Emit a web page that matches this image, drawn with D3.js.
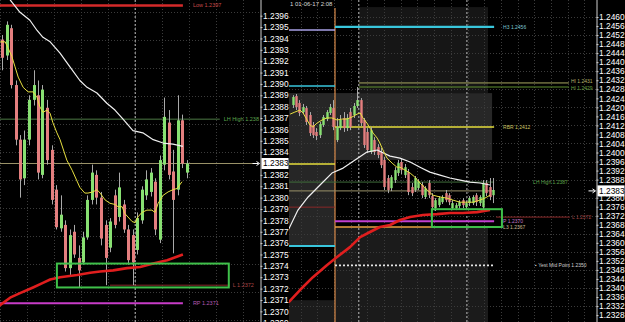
<!DOCTYPE html>
<html>
<head>
<meta charset="utf-8">
<script src="https://cdn.jsdelivr.net/npm/d3@7"></script>
<style>
  body { margin: 0; background: #000; }
  svg { display: block; }
  text { font-family: "Liberation Sans", Arial, sans-serif; }
</style>
</head>
<body>
<div id="chart"></div>
<script>
// ---- left chart (M5) candles, bar index = position
const leftOpen  = [1.23939,1.23925,1.23949,1.23899,1.23851,1.23817,1.23851,1.23886,1.23890,1.23820,1.23879,1.23842,1.23807,1.23773,1.23776,1.23738,1.23770,1.23747,1.23743,1.23765,1.23798,1.23820,1.23800,1.23776,1.23756,1.23802,1.23783,1.23794,1.23772,1.23767,1.23754,1.23780,1.23802,1.23805,1.23814,1.23763,1.23829,1.23866,1.23823,1.23807,1.23868,1.23822];
const leftClose = [1.23923,1.23952,1.23899,1.23851,1.23816,1.23851,1.23886,1.23899,1.23822,1.23895,1.23833,1.23798,1.23774,1.23785,1.23738,1.23767,1.23750,1.23736,1.23765,1.23798,1.23822,1.23800,1.23764,1.23747,1.23779,1.23776,1.23809,1.23772,1.23745,1.23743,1.23782,1.23807,1.23816,1.23822,1.23772,1.23833,1.23871,1.23820,1.23798,1.23868,1.23830,1.23830];
const leftHigh  = [1.23943,1.23955,1.23952,1.23903,1.23855,1.23859,1.23890,1.23912,1.23903,1.23899,1.23886,1.23846,1.23811,1.23802,1.23780,1.23772,1.23776,1.23758,1.23770,1.23802,1.23829,1.23824,1.23805,1.23780,1.23782,1.23807,1.23822,1.23798,1.23776,1.23772,1.23787,1.23810,1.23824,1.23826,1.23817,1.23837,1.23888,1.23877,1.23842,1.23890,1.23873,1.23833];
const leftLow   = [1.23912,1.23921,1.23896,1.23846,1.23800,1.23811,1.23846,1.23881,1.23816,1.23817,1.23829,1.23794,1.23772,1.23770,1.23735,1.23732,1.23747,1.23721,1.23741,1.23763,1.23794,1.23794,1.23758,1.23723,1.23752,1.23773,1.23779,1.23769,1.23741,1.23723,1.23750,1.23777,1.23798,1.23801,1.23767,1.23760,1.23824,1.23816,1.23751,1.23802,1.23826,1.23817];

// moving averages [bar, price]
const leftYellowMA = [[-0.4,1.23937],[0.7,1.23937],[1.3,1.23932],[2.2,1.23924],[2.9,1.23915],[3.6,1.23906],[4.7,1.23897],[5.8,1.23893],[6.9,1.23893],[7.8,1.23888],[8.4,1.23880],[9.1,1.23875],[10.0,1.23877],[10.7,1.23874],[11.3,1.23866],[12.2,1.23857],[12.9,1.23851],[14.4,1.23833],[15.6,1.23824],[17.3,1.23809],[18.4,1.23804],[19.1,1.23804],[20.2,1.23805],[21.1,1.23807],[21.8,1.23804],[22.9,1.23798],[24.0,1.23795],[25.1,1.23794],[25.8,1.23792],[26.7,1.23792],[27.3,1.23786],[28.9,1.23779],[29.6,1.23778],[30.2,1.23783],[31.1,1.23787],[32.2,1.23789],[33.3,1.23789],[34.0,1.23787],[34.7,1.23795],[35.8,1.23802],[36.9,1.23805],[38.0,1.23807],[38.9,1.23808],[40.0,1.23814]];
const leftWhiteMA = [[1.8,1.23974],[2.2,1.23972],[4.0,1.23963],[6.2,1.23956],[7.8,1.23947],[9.1,1.23941],[10.7,1.23937],[12.9,1.23927],[15.1,1.23915],[17.3,1.23903],[18.9,1.23897],[21.1,1.23892],[23.3,1.23883],[25.1,1.23877],[26.9,1.23869],[29.1,1.23859],[31.3,1.23857],[33.6,1.23851],[35.8,1.23848],[38.0,1.23847],[40.2,1.23845]];
const leftRedMA = [[-0.6,1.23705],[1.8,1.23712],[4.0,1.23716],[6.9,1.23721],[9.1,1.23725],[10.7,1.23728],[12.9,1.23730],[16.7,1.23732],[19.6,1.23734],[21.8,1.23735],[24.7,1.23736],[27.8,1.23738],[30.7,1.23739],[33.6,1.23742],[36.7,1.23745],[40.2,1.23750]];

// left chart levels
const leftLevelLabels = ["Low 1.2397", "LH High 1.238", "", "L 1.2372", "RP 1.2371"];
const leftLevelPrices = [1.23969, 1.23869, 1.2383, 1.23723, 1.23707];
const leftLevelFrom   = [-0.5, -0.5, -0.5, 24, -0.5];
const leftLevelTo     = [40.2, 48.4, 56.9, 50.6, 40.2];
const leftBox = { from: 12.2, to: 50.4, top: 1.23742, bottom: 1.23721 };
const leftSession = [29.6];
const leftTicks = d3.range(28).map(k => +(1.2369 + k * 0.0001).toFixed(4));

// ---- right chart (M15) candles
const midOpen  = [1.24210,1.24250,1.24219,1.24179,1.24197,1.24166,1.24122,1.24091,1.24077,1.24122,1.24148,1.24175,1.24197,1.24055,1.24108,1.24153,1.24108,1.24179,1.24166,1.24206,1.24232,1.24144,1.24091,1.24002,1.24055,1.24024,1.24002,1.23967,1.23887,1.23842,1.23878,1.23909,1.23958,1.23900,1.23913,1.23847,1.23834,1.23842,1.23856,1.23803,1.23865,1.23807,1.23754,1.23767,1.23780,1.23820,1.23811,1.23754,1.23754,1.23763,1.23789,1.23758,1.23776,1.23776,1.23811,1.23776,1.23758,1.23865,1.23847,1.23811];
const midClose = [1.24246,1.24201,1.24175,1.24201,1.24135,1.24086,1.24077,1.24073,1.24126,1.24157,1.24179,1.24201,1.24113,1.24113,1.24144,1.24108,1.24153,1.24113,1.24206,1.24232,1.24130,1.24033,1.24011,1.24099,1.24002,1.23989,1.23944,1.23847,1.23834,1.23891,1.23922,1.23953,1.23922,1.23935,1.23825,1.23820,1.23887,1.23873,1.23811,1.23842,1.23811,1.23758,1.23789,1.23798,1.23803,1.23789,1.23780,1.23776,1.23767,1.23780,1.23767,1.23776,1.23798,1.23803,1.23780,1.23803,1.23865,1.23820,1.23803,1.23834];
const midHigh  = [1.24254,1.24259,1.24232,1.24215,1.24206,1.24179,1.24135,1.24108,1.24135,1.24166,1.24188,1.24215,1.24232,1.24153,1.24166,1.24179,1.24170,1.24197,1.24219,1.24290,1.24241,1.24153,1.24108,1.24113,1.24068,1.24037,1.24020,1.23980,1.23900,1.23900,1.23935,1.23967,1.23975,1.23949,1.23927,1.23865,1.23896,1.23882,1.23869,1.23851,1.23878,1.23820,1.23798,1.23807,1.23811,1.23834,1.23820,1.23789,1.23776,1.23789,1.23798,1.23785,1.23807,1.23811,1.23820,1.23811,1.23878,1.23878,1.23887,1.23887];
const midLow   = [1.24197,1.24188,1.24161,1.24170,1.24122,1.24073,1.24064,1.24055,1.24064,1.24113,1.24139,1.24166,1.24099,1.24046,1.24099,1.24091,1.24095,1.24099,1.24153,1.24197,1.24117,1.24020,1.23998,1.23993,1.23989,1.23975,1.23931,1.23834,1.23820,1.23829,1.23865,1.23896,1.23904,1.23887,1.23811,1.23807,1.23825,1.23834,1.23798,1.23794,1.23798,1.23745,1.23741,1.23758,1.23772,1.23780,1.23767,1.23745,1.23745,1.23749,1.23754,1.23745,1.23763,1.23767,1.23763,1.23763,1.23749,1.23807,1.23789,1.23776];

const midYellowMA = [[-0.7,1.24170],[0.7,1.24179],[2.2,1.24188],[3.1,1.24175],[4.3,1.24144],[5.1,1.24122],[6.0,1.24113],[7.2,1.24130],[8.7,1.24144],[10.1,1.24153],[11.6,1.24153],[13.1,1.24144],[14.6,1.24148],[16.0,1.24148],[17.5,1.24157],[19.0,1.24170],[19.9,1.24175],[20.7,1.24153],[21.9,1.24130],[22.8,1.24108],[23.7,1.24086],[24.9,1.24064],[25.7,1.24042],[26.6,1.24011],[27.8,1.23975],[29.3,1.23953],[30.7,1.23935],[31.6,1.23935],[34.6,1.23909],[36.0,1.23891],[37.5,1.23865],[39.6,1.23834],[41.3,1.23811],[43.4,1.23803],[45.4,1.23798],[47.2,1.23789],[49.3,1.23780],[51.3,1.23780],[53.1,1.23780],[55.1,1.23789],[56.6,1.23798],[58.1,1.23811]];
const midWhiteMA = [[-1.1,1.23661],[1.6,1.23745],[4.6,1.23803],[8.1,1.23856],[11.6,1.23909],[14.9,1.23931],[18.4,1.23967],[21.9,1.24002],[24.9,1.24011],[28.7,1.23984],[31.6,1.23975],[34.6,1.23958],[37.5,1.23935],[40.4,1.23913],[43.4,1.23900],[46.3,1.23887],[49.3,1.23878],[52.2,1.23869],[55.1,1.23865],[58.1,1.23856]];
const midRedMA = [[-1.1,1.23337],[2.2,1.23391],[6.0,1.23448],[10.1,1.23501],[13.1,1.23537],[16.9,1.23581],[19.9,1.23625],[22.8,1.23648],[25.7,1.23670],[28.7,1.23679],[31.6,1.23701],[34.6,1.23714],[38.4,1.23723],[42.5,1.23727],[46.3,1.23732],[50.1,1.23732],[54.3,1.23736],[58.1,1.23745]];

// right chart levels
const midLevelLabels = ["", "", "", "", "", "H3 1.2456", "RBR 1.2412", "HI 1.2431", "HI 1.2429", "LH High 1.2387", "", "P 1.2370", "L3 1.2367", "L 1.2372", "\u25aa Yest Mid Point 1.2350"];
const midLevelPrices = [1.24542, 1.24294, 1.23949, 1.23758, 1.23586, 1.24556, 1.24113, 1.24308, 1.24290, 1.23869, 1.2383, 1.23696, 1.2367, 1.23714, 1.2350];
const midLevelFrom   = [-1.1, -1.1, -1.1, -1.1, -1.1, 12.5, 12.5, 19.5, 19.5, -1.1, -1.1, 12.5, 12.5, 59.9, 12.5];
const midLevelTo     = [12.5, 12.5, 12.5, 12.5, 12.5, 59.3, 59.3, 81.3, 81.3, 59.3, 59.3, 59.3, 59.3, 81.6, 59.3];

// shaded session ranges
const midZoneFrom   = [-1.1, 12.5, 19.5, 12.5, -1.1];
const midZoneTo     = [12.5, 58.7, 57.5, 57.5, 12.5];
const midZoneTop    = [1.24263, 1.24263, 1.24644, 1.23670, 1.23346];
const midZoneBottom = [1.23586, 1.23967, 1.24263, 1.23249, 1.23249];
const midBox = { from: 41, to: 61.6, top: 1.23749, bottom: 1.23670 };
const midDayStart = 12.5;
const midSession = [19.5, 51.3];
const midTicks = d3.range(34).map(k => +(1.2328 + k * 0.0004).toFixed(4));
const lastPrice = 1.2383;
const stamp = "1  01-06-17 2:08";

// ---- drawing
const W = 625, H = 322;
const fmt = d3.format(".4f");
const up = "#88e072", down = "#e47f7f", wick = "#a9a9a9";

const svg = d3.select("#chart").append("svg")
  .attr("width", W).attr("height", H)
  .style("background", "#000");

const defs = svg.append("defs");
defs.append("clipPath").attr("id", "clipL").append("rect")
  .attr("x", 0).attr("y", 0).attr("width", 261).attr("height", H);
defs.append("clipPath").attr("id", "clipM").append("rect")
  .attr("x", 289).attr("y", 0).attr("width", 308).attr("height", H);

const xL = d3.scaleLinear().domain([0, 57]).range([2, 258.5]);
const yL = d3.scaleLinear().domain([1.2369, 1.2396]).range([322.7, 15.7]);
const xM = d3.scaleLinear().domain([0, 90]).range([292.5, 598.5]);
const yM = d3.scaleLinear().domain([1.2328, 1.2460]).range([315.1, 17]);

const gL = svg.append("g").attr("clip-path", "url(#clipL)");
const gM = svg.append("g").attr("clip-path", "url(#clipM)");

// shaded zones
gM.selectAll("rect.zone")
  .data(d3.range(midZoneFrom.length))
  .join("rect")
  .attr("class", "zone")
  .attr("x", i => xM(midZoneFrom[i]))
  .attr("width", i => xM(midZoneTo[i]) - xM(midZoneFrom[i]))
  .attr("y", i => yM(midZoneTop[i]))
  .attr("height", i => yM(midZoneBottom[i]) - yM(midZoneTop[i]))
  .attr("fill", (d, i) => ["#262626", "#272727", "#161616", "#1b1b1b", "#1b1b1b"][i]);

// grid
const gridStyle = (sel) => sel.attr("stroke", "#3b3b3b").attr("stroke-width", 1).attr("stroke-dasharray", "1,2");
gL.selectAll("line.vg").data(d3.range(0.5, 261, 27)).join("line")
  .attr("x1", d => d).attr("x2", d => d).attr("y1", 0).attr("y2", H).call(gridStyle);
gL.selectAll("line.hg").data(d3.range(12.5, H, 28)).join("line")
  .attr("x1", 0).attr("x2", 261).attr("y1", d => d).attr("y2", d => d).call(gridStyle);
gM.selectAll("line.vg").data(d3.range(300.5, 597, 16.7)).join("line")
  .attr("x1", d => Math.round(d) + 0.5).attr("x2", d => Math.round(d) + 0.5).attr("y1", 0).attr("y2", H).call(gridStyle);
gM.selectAll("line.hg").data(midTicks.filter((d, i) => i % 2 === 1)).join("line")
  .attr("x1", 289).attr("x2", 597).attr("y1", d => Math.round(yM(d)) + 0.5).attr("y2", d => Math.round(yM(d)) + 0.5).call(gridStyle);

// session separators
gL.selectAll("line.sess").data(leftSession).join("line")
  .attr("x1", d => xL(d)).attr("x2", d => xL(d)).attr("y1", 0).attr("y2", H)
  .attr("stroke", "#bdbdbd").attr("stroke-dasharray", "2,2");
gM.selectAll("line.sess").data(midSession).join("line")
  .attr("x1", d => xM(d)).attr("x2", d => xM(d)).attr("y1", 0).attr("y2", H)
  .attr("stroke", "#bdbdbd").attr("stroke-dasharray", "2,2");
gM.append("line")
  .attr("x1", xM(midDayStart)).attr("x2", xM(midDayStart)).attr("y1", 8).attr("y2", H)
  .attr("stroke", "#d98a4a").attr("stroke-width", 1.2);

// level lines
const leftLineColor = ["#d42a2a", "#4d7a45", "#9a9268", "#8a2a2a", "#c83cc8"];
const leftLineWidth = [2.5, 1, 1, 1, 2];
gL.selectAll("line.lvl").data(d3.range(leftLevelPrices.length)).join("line")
  .attr("x1", i => xL(leftLevelFrom[i])).attr("x2", i => xL(leftLevelTo[i]))
  .attr("y1", i => yL(leftLevelPrices[i])).attr("y2", i => yL(leftLevelPrices[i]))
  .attr("stroke", i => leftLineColor[i]).attr("stroke-width", i => leftLineWidth[i]);

const midLineColor = ["#a9a0e6", "#39c6dc", "#e6de3c", "#8a2828", "#39c6dc", "#39c6dc", "#e6de3c", "#a8a860", "#5f8f2f", "#3f6b3a", "#9a9268", "#c23fd0", "#e8a040", "#8a2828", "#e6e6e6"];
const midLineWidth = [1.5, 1.5, 1.5, 1, 2, 2.2, 1.5, 1, 1, 1, 1, 2, 1.5, 1, 1.6];
gM.selectAll("line.lvl").data(d3.range(midLevelPrices.length)).join("line")
  .attr("x1", i => xM(midLevelFrom[i])).attr("x2", i => xM(midLevelTo[i]))
  .attr("y1", i => yM(midLevelPrices[i])).attr("y2", i => yM(midLevelPrices[i]))
  .attr("stroke", i => midLineColor[i]).attr("stroke-width", i => midLineWidth[i])
  .attr("stroke-dasharray", i => i === 14 ? "2,2" : null);

// boxes
const boxStyle = (sel) => sel.attr("fill", "none").attr("stroke", "#3fc04a").attr("stroke-width", 2);
svg.append("rect")
  .attr("x", xL(leftBox.from)).attr("width", xL(leftBox.to) - xL(leftBox.from))
  .attr("y", yL(leftBox.top)).attr("height", yL(leftBox.bottom) - yL(leftBox.top))
  .call(boxStyle);
svg.append("rect")
  .attr("x", xM(midBox.from)).attr("width", xM(midBox.to) - xM(midBox.from))
  .attr("y", yM(midBox.top)).attr("height", yM(midBox.bottom) - yM(midBox.top))
  .call(boxStyle);

// candles
function drawCandles(g, open, close, high, low, x, y, bodyW) {
  const bars = open.map((o, i) => ({ i, o, c: close[i], h: high[i], l: low[i] }));
  g.append("g").selectAll("line").data(bars).join("line")
    .attr("x1", d => Math.round(x(d.i)) + 0.5).attr("x2", d => Math.round(x(d.i)) + 0.5)
    .attr("y1", d => y(d.h)).attr("y2", d => y(d.l))
    .attr("stroke", wick).attr("stroke-width", 1);
  g.append("g").selectAll("rect").data(bars).join("rect")
    .attr("x", d => Math.round(x(d.i)) + 0.5 - bodyW / 2)
    .attr("width", bodyW)
    .attr("y", d => y(Math.max(d.o, d.c)))
    .attr("height", d => Math.max(1, Math.abs(y(d.o) - y(d.c))))
    .attr("fill", d => d.c >= d.o ? up : down);
}
drawCandles(gL, leftOpen, leftClose, leftHigh, leftLow, xL, yL, 3);
drawCandles(gM, midOpen, midClose, midHigh, midLow, xM, yM, 2.4);

// moving averages
function drawMA(g, pts, x, y, color, w) {
  g.append("path").datum(pts)
    .attr("d", d3.line().x(d => x(d[0])).y(d => y(d[1])))
    .attr("fill", "none").attr("stroke", color).attr("stroke-width", w)
    .attr("stroke-linejoin", "round");
}
drawMA(gL, leftRedMA, xL, yL, "#e01e1e", 2.6);
drawMA(gL, leftWhiteMA, xL, yL, "#f0f0f0", 1.2);
drawMA(gL, leftYellowMA, xL, yL, "#e8e040", 1);
drawMA(gM, midRedMA, xM, yM, "#e01e1e", 2.6);
drawMA(gM, midWhiteMA, xM, yM, "#f0f0f0", 1.2);
drawMA(gM, midYellowMA, xM, yM, "#e8e040", 1);

// level labels
const leftLabelColor = ["#c84a4a", "#5ea54e", "#000", "#a84646", "#b45ab4"];
const leftLabelDx = [10, 4, 0, 3, 10];
svg.append("g").selectAll("text").data(d3.range(leftLevelLabels.length).filter(i => leftLevelLabels[i])).join("text")
  .attr("x", i => xL(leftLevelTo[i]) + leftLabelDx[i])
  .attr("y", i => yL(leftLevelPrices[i]))
  .attr("dy", "0.35em")
  .attr("fill", i => leftLabelColor[i])
  .style("font-size", "5.5px")
  .text(i => leftLevelLabels[i]);

const midLabelColor = ["", "", "", "", "", "#7cc6d2", "#c8c060", "#b4b46a", "#6aa040", "#5aa048", "", "#c070c8", "#c8b890", "#a44444", "#cfcfcf"];
const midLabelDx = [0, 0, 0, 0, 0, 9, 9, 2, 2, 39, 0, 9, 9, 2, 41];
svg.append("g").selectAll("text").data(d3.range(midLevelLabels.length).filter(i => midLevelLabels[i])).join("text")
  .attr("x", i => xM(midLevelTo[i]) + midLabelDx[i])
  .attr("y", i => yM(midLevelPrices[i]))
  .attr("dy", (i) => i === 7 ? "0.1em" : i === 8 ? "0.6em" : "0.35em")
  .attr("fill", i => midLabelColor[i])
  .style("font-size", "5px")
  .text(i => midLevelLabels[i]);

svg.append("text").attr("x", 290).attr("y", 5.5)
  .attr("fill", "#d8d8d8").style("font-size", "6px").text(stamp);

// price axes
function priceAxis(xPos, y, ticks) {
  const yp = y(lastPrice);
  const shown = ticks.filter(t => Math.abs(y(t) - yp) > 6.5);
  const g = svg.append("g").attr("transform", `translate(${xPos},0)`);
  g.append("line").attr("x1", 0.5).attr("x2", 0.5).attr("y1", 0).attr("y2", H)
    .attr("stroke", "#cfcfcf");
  g.call(d3.axisRight(y).tickValues(shown).tickFormat(fmt).tickSize(2).tickPadding(0.5));
  g.select(".domain").remove();
  g.selectAll(".tick line").attr("stroke", "#cfcfcf");
  g.selectAll(".tick text").attr("fill", "#fff").style("font-size", "8.4px")
    .style("font-family", "'Liberation Sans', Arial, sans-serif");
  // current price flag
  g.append("rect").attr("x", 1).attr("y", yp - 5.5).attr("width", 27).attr("height", 11).attr("fill", "#fff");
  g.append("text").attr("x", 2.5).attr("y", yp).attr("dy", "0.35em")
    .attr("fill", "#000").style("font-size", "8.4px").text(fmt(lastPrice));
  g.append("path").attr("d", `M-8,${yp}H-2M-4,${yp - 2}L-1,${yp}L-4,${yp + 2}`)
    .attr("stroke", "#fff").attr("fill", "none");
}
priceAxis(260.5, yL, leftTicks);
priceAxis(596.5, yM, midTicks);
</script>
</body>
</html>
